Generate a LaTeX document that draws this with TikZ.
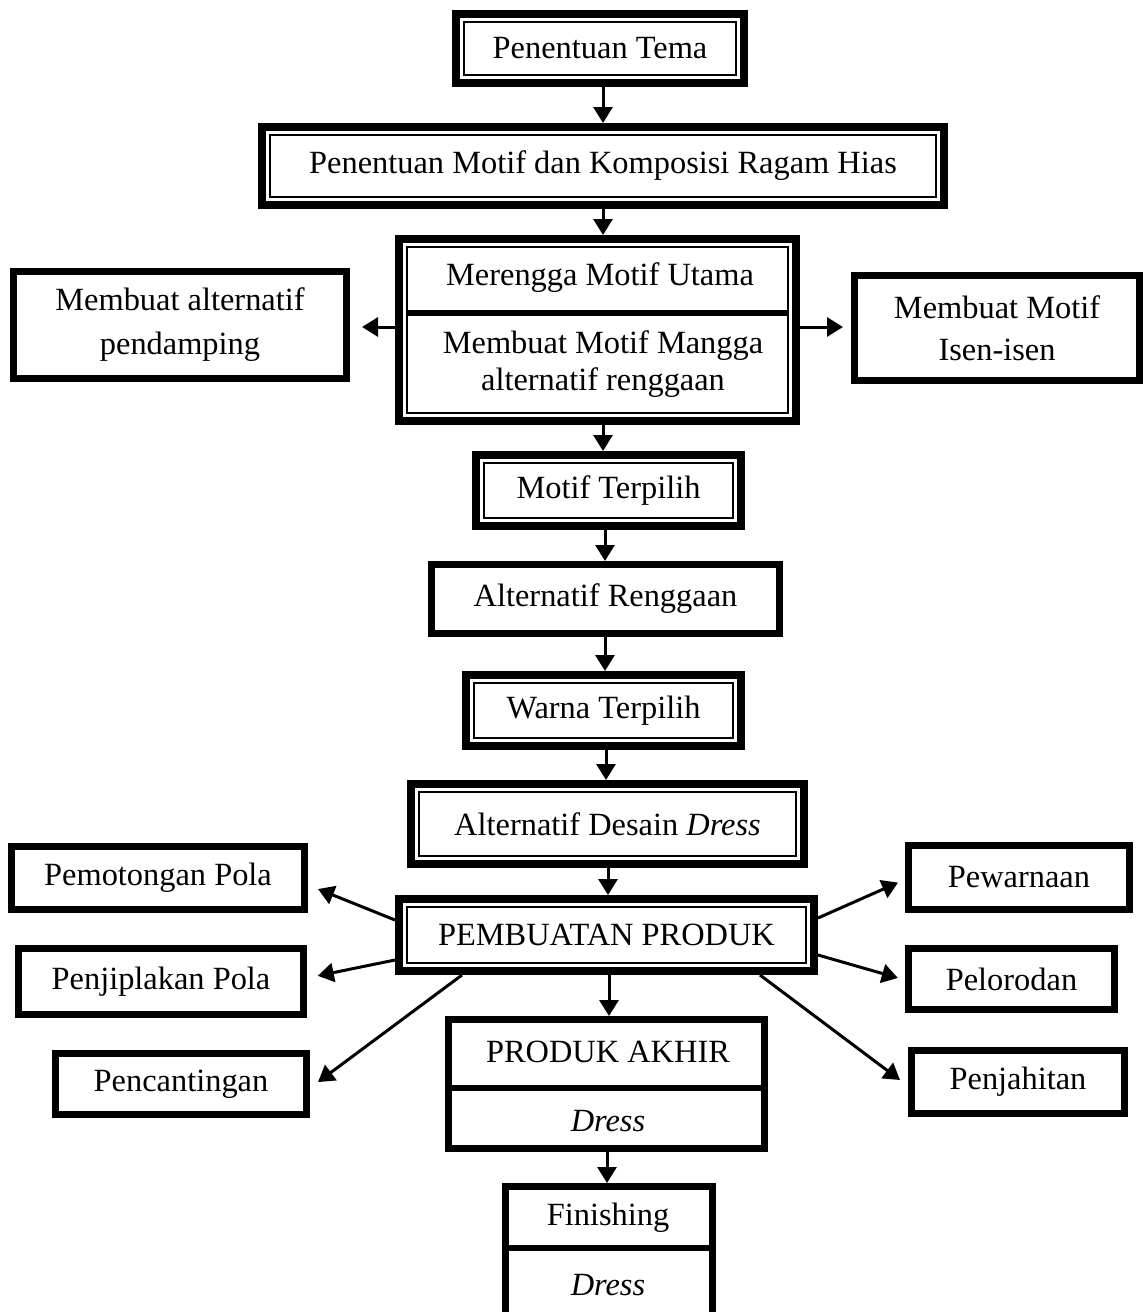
\documentclass[tikz,border=0pt]{standalone}
\usepackage{fontspec}
\setmainfont{Liberation Serif}
\usetikzlibrary{arrows.meta,calc}
\begin{document}
\begin{tikzpicture}[x=0.5pt,y=-0.5pt,
  font=\fontsize{16.2}{18.5}\selectfont,
  dblbox/.style={draw, line width=4pt, inner sep=0pt, align=center},
  sglbox/.style={draw, line width=3.5pt, inner sep=0pt, align=center},
  txt/.style={inner sep=0pt, align=center},
  thinline/.style={line width=0.8pt},
  sepline/.style={line width=2.8pt},
  arr/.style={line width=1.5pt, -{Triangle[width=9.5pt,length=8pt]}},
]
\useasboundingbox (0,0) rectangle (1143,1312);
% central column
\node[dblbox, minimum width=144pt, minimum height=34.5pt] (tema) at (600,48.5) {Penentuan Tema};
\node[dblbox, minimum width=341pt, minimum height=39pt] (motif) at (603,166) {Penentuan Motif dan Komposisi Ragam Hias};
\node[dblbox, minimum width=198.5pt, minimum height=91pt] (mer) at (597.5,330) {};
\node[txt] (merA) at (600,278) {Merengga Motif Utama};
\node[txt] (merB) at (603,364) {Membuat Motif Mangga\\alternatif renggaan};
\node[dblbox, minimum width=132.5pt, minimum height=35.5pt] (terp) at (608.5,490.5) {Motif Terpilih};
\node[sglbox, minimum width=174pt, minimum height=34.5pt] (reng) at (605.5,599) {Alternatif Renggaan};
\node[dblbox, minimum width=137.5pt, minimum height=35.5pt] (warna) at (603.5,710.5) {Warna Terpilih};
\node[dblbox, minimum width=196.5pt, minimum height=40pt] (desain) at (607.5,824) {Alternatif Desain \textit{Dress}};
\node[dblbox, minimum width=207.5pt, minimum height=36pt] (pemb) at (606.5,935) {PEMBUATAN PRODUK};
\node[sglbox, minimum width=158pt, minimum height=64.5pt] (akhir) at (606.5,1084) {};
\node[txt] (akhirA) at (608,1052) {PRODUK AKHIR};
\node[txt] (akhirB) at (608,1121) {\textit{Dress}};
\node[sglbox, minimum width=103.5pt, minimum height=67.5pt] (fin) at (609,1254) {};
\node[txt] (finA) at (608,1218) {Finishing};
\node[txt] (finB) at (608,1285) {\textit{Dress}};
% side boxes
\node[sglbox, minimum width=166.5pt, minimum height=53.5pt, font=\fontsize{16.2}{22}\selectfont] (pend) at (180,325) {Membuat alternatif\\pendamping};
\node[sglbox, minimum width=142.5pt, minimum height=52.5pt, font=\fontsize{16.2}{21}\selectfont] (isen) at (997,328) {Membuat Motif\\Isen-isen};
\node[sglbox, minimum width=146.5pt, minimum height=31.5pt] (pemo) at (158,878) {Pemotongan Pola};
\node[sglbox, minimum width=142.5pt, minimum height=33pt] (penj) at (161,981.5) {Penjiplakan Pola};
\node[sglbox, minimum width=125.5pt, minimum height=30.5pt] (penc) at (181,1084) {Pencantingan};
\node[sglbox, minimum width=110.5pt, minimum height=32pt] (pew) at (1019,877.5) {Pewarnaan};
\node[sglbox, minimum width=103pt, minimum height=30.5pt] (pel) at (1011.5,979) {Pelorodan};
\node[sglbox, minimum width=106.5pt, minimum height=31.5pt] (pjh) at (1018,1082) {Penjahitan};
% inner thin borders of the double boxes
\foreach \n in {tema,motif,mer,terp,warna,desain,pemb}{
  \draw[thinline] ($(\n.north west)+(12,12)$) rectangle ($(\n.south east)+(-12,-12)$);
}
% separators
\draw[sepline] ($(mer.west |- 0,313)+(12,0)$) -- ($(mer.east |- 0,313)+(-12,0)$);
\draw[sepline] (akhir.west |- 0,1088) -- (akhir.east |- 0,1088);
\draw[sepline] (fin.west |- 0,1248) -- (fin.east |- 0,1248);
% column x positions
\coordinate (x3) at (603,0);
\coordinate (x4) at (605,0);
\coordinate (x6) at (606,0);
\coordinate (x7) at (608,0);
\coordinate (x8) at (609,0);
\coordinate (x9) at (607,0);
% vertical arrows
\draw[arr] (tema.south -| x3) -- (motif.north -| x3);
\draw[arr] (motif.south -| x3) -- (mer.north -| x3);
\draw[arr] (mer.south -| x3) -- (terp.north -| x3);
\draw[arr] (terp.south -| x4) -- (reng.north -| x4);
\draw[arr] (reng.south -| x4) -- (warna.north -| x4);
\draw[arr] (warna.south -| x6) -- (desain.north -| x6);
\draw[arr] (desain.south -| x7) -- (pemb.north -| x7);
\draw[arr] (pemb.south -| x8) -- (akhir.north -| x8);
\draw[arr] (akhir.south -| x9) -- (fin.north -| x9);
% side arrows from merengga
\coordinate (ys) at (0,327);
\draw[arr, shorten >=6pt] (mer.west |- ys) -- (pend.east |- ys);
\draw[arr, shorten >=4pt] (mer.east |- ys) -- (isen.west |- ys);
% arrows from pembuatan produk
\draw[arr, shorten >=5.4pt] ($(pemb.west)+(0,-15)$) -- ($(pemo.east)+(0,7)$);
\draw[arr, shorten >=5.5pt] ($(pemb.west)+(0,25)$) -- ($(penj.east)+(0,-3.5)$);
\draw[arr, shorten >=5pt] ($(pemb.south west)+(67,0)$) -- ($(penc.east)+(0,4)$);
\draw[arr, shorten >=3.8pt] ($(pemb.east)+(0,-17)$) -- ($(pew.west)+(0,2)$);
\draw[arr, shorten >=3.7pt] ($(pemb.east)+(0,20)$) -- ($(pel.west)+(0,1)$);
\draw[arr, shorten >=5pt] ($(pemb.south east)+(-58,0)$) -- ($(pjh.west)+(0,4)$);
\end{tikzpicture}
\end{document}
